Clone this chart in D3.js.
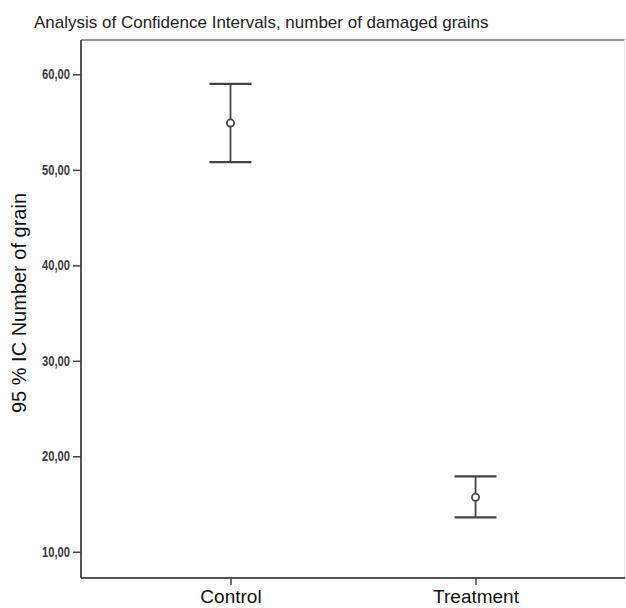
<!DOCTYPE html>
<html>
<head>
<meta charset="utf-8">
<script src="https://cdn.jsdelivr.net/npm/d3@7"></script>
<style>
  body { margin: 0; background: #fff; }
  svg text { font-family: "Liberation Sans", Arial, sans-serif; }
</style>
</head>
<body>
<div id="chart"></div>
<script>
// data
const groups = ["Control", "Treatment"];
const means = [54.9, 15.7];
const lower = [50.8, 13.6];
const upper = [59.0, 17.9];
const yTicks = [10, 20, 30, 40, 50, 60];

const width = 626;
const height = 608;
const margin = { top: 40, right: 1, bottom: 30, left: 81 };

const svg = d3.select("#chart")
  .append("svg")
  .attr("width", width)
  .attr("height", height);

const x = d3.scalePoint()
  .domain(groups)
  .range([margin.left, width - margin.right])
  .padding(0.61);

const y = d3.scaleLinear()
  .domain([7.25, 63.6])
  .range([height - margin.bottom, margin.top]);

// title
svg.append("text")
  .attr("x", 34)
  .attr("y", 28)
  .attr("font-size", 17)
  .attr("fill", "#222")
  .text("Analysis of Confidence Intervals, number of damaged grains");

// frame (top / right faint)
svg.append("line")
  .attr("x1", margin.left).attr("x2", width - margin.right)
  .attr("y1", margin.top).attr("y2", margin.top)
  .attr("stroke", "#777").attr("stroke-width", 1.5);
svg.append("line")
  .attr("x1", width - margin.right - 0.5).attr("x2", width - margin.right - 0.5)
  .attr("y1", margin.top).attr("y2", height - margin.bottom)
  .attr("stroke", "#e4e4e4").attr("stroke-width", 1);

// y axis
const yAxis = svg.append("g")
  .attr("transform", `translate(${margin.left},0)`)
  .call(d3.axisLeft(y)
    .tickValues(yTicks)
    .tickSize(8)
    .tickPadding(3)
    .tickFormat(d => d3.format(".2f")(d).replace(".", ",")));
yAxis.select(".domain")
  .attr("d", `M0,${margin.top}V${height - margin.bottom}`)
  .attr("stroke", "#555").attr("stroke-width", 2);
yAxis.selectAll(".tick line").attr("stroke", "#444").attr("stroke-width", 1.5);
yAxis.selectAll(".tick text")
  .attr("font-family", "'Liberation Sans Narrow', 'DejaVu Sans Condensed', Arial, sans-serif")
  .attr("font-size", 14)
  .attr("font-weight", "bold")
  .attr("fill", "#3a3a3a")
  .attr("textLength", 28)
  .attr("lengthAdjust", "spacingAndGlyphs");

// x axis
const xAxis = svg.append("g")
  .attr("transform", `translate(0,${height - margin.bottom})`)
  .call(d3.axisBottom(x).tickSize(7).tickPadding(4));
xAxis.select(".domain")
  .attr("d", `M${margin.left},0H${width - margin.right}`)
  .attr("stroke", "#555").attr("stroke-width", 2);
xAxis.selectAll(".tick line").attr("stroke", "#444").attr("stroke-width", 1.5);
xAxis.selectAll(".tick text")
  .attr("font-size", 19)
  .attr("dy", null)
  .attr("y", 25)
  .attr("fill", "#111");

// y axis title
svg.append("text")
  .attr("transform", `translate(26,303) rotate(-90)`)
  .attr("text-anchor", "middle")
  .attr("font-size", 20)
  .attr("fill", "#111")
  .text("95 % IC Number of grain");

// error bars
const capHalf = 21;
const bars = svg.append("g")
  .selectAll("g")
  .data(groups)
  .join("g")
  .attr("stroke", "#444")
  .attr("fill", "none")
  .attr("stroke-width", 1.8);

bars.append("line")
  .attr("x1", d => x(d)).attr("x2", d => x(d))
  .attr("y1", (d, i) => y(upper[i])).attr("y2", (d, i) => y(lower[i]));
bars.append("line")
  .attr("x1", d => x(d) - capHalf).attr("x2", d => x(d) + capHalf)
  .attr("y1", (d, i) => y(upper[i])).attr("y2", (d, i) => y(upper[i]))
  .attr("stroke-width", 2.2);
bars.append("line")
  .attr("x1", d => x(d) - capHalf).attr("x2", d => x(d) + capHalf)
  .attr("y1", (d, i) => y(lower[i])).attr("y2", (d, i) => y(lower[i]))
  .attr("stroke-width", 2.2);
bars.append("circle")
  .attr("cx", d => x(d))
  .attr("cy", (d, i) => y(means[i]))
  .attr("r", 3.6)
  .attr("fill", "#fff");
</script>
</body>
</html>
